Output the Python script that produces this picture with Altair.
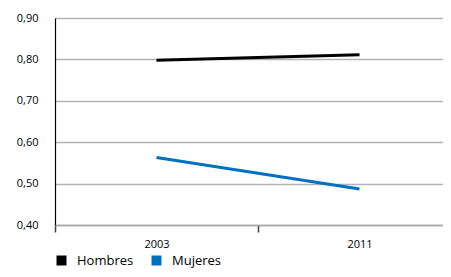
import altair as alt
import pandas as pd

years = ["2003", "2011"]
hombres = [0.798, 0.811]
mujeres = [0.563, 0.487]
series_names = ["Hombres", "Mujeres"]
series_colors = ["#000000", "#0070C0"]

rows = []
for name, vals in zip(series_names, [hombres, mujeres]):
    for y, v in zip(years, vals):
        rows.append({"year": y, "value": v, "serie": name})
df = pd.DataFrame(rows)

font = "Open Sans"

chart = alt.Chart(df).mark_line(strokeWidth=3).encode(
    x=alt.X("year:O", bandPosition=0.5,
            scale=alt.Scale(type="band", paddingInner=0, paddingOuter=0, range=[0, 406]),
            axis=alt.Axis(title=None, labelAngle=0, tickBand="extent", grid=False,
                          domainColor="#a6a6a6", domainWidth=1.5,
                          tickColor="#404040", tickWidth=1.5, tickSize=7,
                          labelFontSize=11, labelColor="#000000", labelFont=font,
                          labelPadding=6)),
    y=alt.Y("value:Q",
            scale=alt.Scale(domain=[0.4, 0.9], nice=False, zero=False),
            axis=alt.Axis(title=None, values=[0.4, 0.5, 0.6, 0.7, 0.8, 0.9],
                          labelExpr="replace(format(datum.value, '.2f'), '.', ',')",
                          tickSize=0, labelPadding=17, domainColor="#000000",
                          domainWidth=1.2, gridColor="#b3b3b3", gridWidth=1.5,
                          labelFontSize=11, labelColor="#000000", labelFont=font)),
    color=alt.Color("serie:N",
                    scale=alt.Scale(domain=series_names, range=series_colors),
                    legend=alt.Legend(title=None, orient="bottom", direction="horizontal",
                                      symbolType="square", symbolSize=25,
                                      symbolStrokeWidth=5,
                                      labelFontSize=13, labelFont=font,
                                      labelColor="#000000", columnPadding=10,
                                      labelOffset=9, offset=5)),
).properties(width=388, height=207,
             autosize=alt.AutoSizeParams(type="none"),
             padding={"left": 47, "top": 10, "right": 0, "bottom": 44}
).configure_view(stroke=None)

chart.save("out.html", embed_options={"renderer": "svg", "actions": False})
